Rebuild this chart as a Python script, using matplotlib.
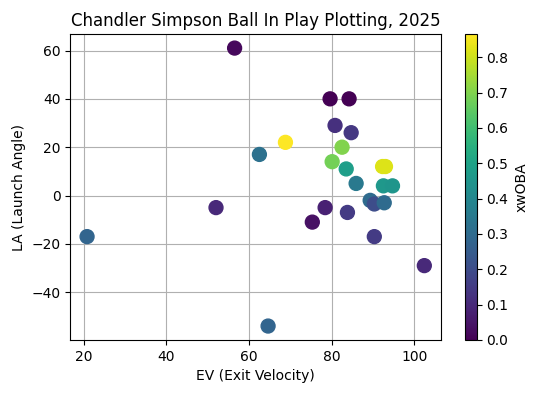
import matplotlib
matplotlib.use("Agg")
import matplotlib.pyplot as plt
import numpy as np

ev = [56.5, 62.5, 68.8, 79.6, 84.2, 80.8, 84.7, 82.5, 80.1, 83.5, 85.9,
      92.3, 93.0, 92.5, 94.7, 89.3, 90.3, 92.7, 78.4, 75.3, 83.8, 90.3,
      102.4, 64.6, 20.8, 52.0]
la = [61, 17, 22, 40, 40, 29, 26, 20, 14, 11, 5,
      12, 12, 4, 4, -2, -3.5, -3, -5, -11, -7, -17,
      -29, -54, -17, -5]
xwoba = [0.02, 0.32, 0.865, 0.0, 0.0, 0.12, 0.14, 0.70, 0.68, 0.48, 0.35,
         0.82, 0.82, 0.46, 0.45, 0.30, 0.20, 0.30, 0.08, 0.04, 0.15, 0.15,
         0.10, 0.28, 0.28, 0.10]

fig = plt.figure(figsize=(5.4, 3.93), dpi=100)
ax = fig.add_axes([0.13, 0.135, 0.687, 0.778])
cax = fig.add_axes([0.862, 0.135, 0.021, 0.778])
sc = ax.scatter(ev, la, c=xwoba, cmap="viridis", s=100, vmin=0, vmax=0.865)
ax.grid(True)
ax.set_axisbelow(True)
ax.set_xlabel("EV (Exit Velocity)")
ax.set_ylabel("LA (Launch Angle)")
ax.set_title("Chandler Simpson Ball In Play Plotting, 2025")
cb = fig.colorbar(sc, cax=cax)
cb.set_label("xwOBA")
fig.savefig("out.png", dpi=100)
